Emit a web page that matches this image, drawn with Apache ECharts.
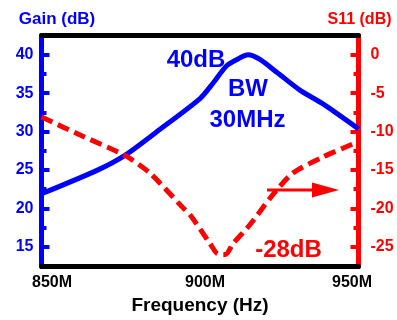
<!DOCTYPE html>
<html><head><meta charset="utf-8">
<script src="https://cdn.jsdelivr.net/npm/echarts@6/dist/echarts.min.js"></script>
<style>html,body{margin:0;padding:0;background:#fff}#c{width:397px;height:320px}</style>
</head><body><div id="c"></div>
<script>
// Gain curve (blue, left axis)
const freqGain = [850, 867.5, 876.3, 887.4, 900, 904.1, 908.5, 912.6, 915.1, 918.9, 924.3, 931.5, 938.8, 950];
const gain     = [21.9, 24.95, 26.9, 30.3, 34.3, 36.3, 38.6, 39.6, 40.0, 39.4, 37.7, 35.4, 33.6, 30.35];
// S11 curve (red dashed, right axis)
const freqS11 = [850, 863, 876.3, 884.2, 894.6, 896.8, 903.2, 905.5, 908, 910.4, 915.8, 923, 929.3, 938.8, 948.3, 950];
const s11     = [-8.1, -10.6, -13.1, -15.4, -19.9, -20.8, -24.6, -25.9, -26.0, -24.6, -22.1, -18.2, -15.4, -13.3, -11.6, -11.3];
// ticks
const xTicks = [850, 900, 950];
const xTickLabels = ['850M', '900M', '950M'];
const gainTickPositions = [12.5, 15, 17.5, 20, 22.5, 25, 27.5, 30, 32.5, 35, 37.5, 40, 42.5];
const gainTicks = [15, 20, 25, 30, 35, 40];
const gainMinor = [17.5, 22.5, 27.5, 32.5, 37.5];
const s11TickPositions = [-27.5, -25, -22.5, -20, -17.5, -15, -12.5, -10, -7.5, -5, -2.5, 0, 2.5];
const s11Ticks = [-25, -20, -15, -10, -5, 0];
const s11Minor = [-22.5, -17.5, -12.5, -7.5, -2.5];

const BLUE = '#0000ff', RED = '#ff0000';
const FONT = 'Arial, "Liberation Sans", Helvetica, sans-serif';

const chart = echarts.init(document.getElementById('c'), null, {renderer: 'canvas'});
const gainData = freqGain.map((f, i) => [f, gain[i]]);
const s11Data = freqS11.map((f, i) => [f, s11[i]]);

function inList(list) { return function (i, v) { return list.indexOf(+v) >= 0; }; }

function catMain(pos, cats, color, ticks, name, namePad, nameSize, labelMargin) {
  return {
    type: 'category', position: pos, boundaryGap: false, data: cats.map(String),
    name: name, nameLocation: 'end', nameGap: 8,
    nameTextStyle: {color: color, fontWeight: 'bold', fontSize: nameSize, fontFamily: FONT, padding: namePad},
    axisLine: {show: true, lineStyle: {color: color, width: 5}},
    axisTick: {show: true, inside: true, length: 8, lineStyle: {color: color, width: 4}, interval: inList(ticks)},
    axisLabel: {show: true, color: color, fontWeight: 'bold', fontSize: 16, fontFamily: FONT, margin: labelMargin, interval: inList(ticks)},
    splitLine: {show: false}
  };
}
function catMinor(pos, cats, color, ticks) {
  return {
    type: 'category', position: pos, boundaryGap: false, data: cats.map(String),
    axisLine: {show: false},
    axisTick: {show: true, inside: true, length: 5, lineStyle: {color: color, width: 4}, interval: inList(ticks)},
    axisLabel: {show: false},
    splitLine: {show: false}
  };
}

const option = {
  animation: false,
  backgroundColor: '#fff',
  grid: {left: 41.5, right: 397 - 358.5, top: 35.6, bottom: 320 - 268.7, containLabel: false},
  xAxis: [
    {
      type: 'value', position: 'bottom', min: 850, max: 950, interval: 50, z: 3,
      name: 'Frequency (Hz)', nameLocation: 'middle', nameGap: 30,
      nameTextStyle: {color: '#000', fontWeight: 'bold', fontSize: 19, fontFamily: FONT},
      axisLine: {show: true, onZero: false, lineStyle: {color: '#000', width: 5}},
      axisTick: {show: true, inside: false, length: 3, lineStyle: {color: '#000', width: 3}},
      axisLabel: {
        show: true, color: '#000', fontWeight: 'bold', fontSize: 16, fontFamily: FONT, margin: 9,
        formatter: function (v) { const i = xTicks.indexOf(v); return i < 0 ? '' : '{p' + i + '|' + xTickLabels[i] + '}'; },
        rich: {
          p0: {padding: [0, 0, 0, 21], fontWeight: 'bold', fontSize: 16, fontFamily: FONT, color: '#000'},
          p1: {padding: [0, 0, 0, 10], fontWeight: 'bold', fontSize: 16, fontFamily: FONT, color: '#000'},
          p2: {padding: [0, 13, 0, 0], fontWeight: 'bold', fontSize: 16, fontFamily: FONT, color: '#000'}
        }
      },
      splitLine: {show: false}
    },
    {
      type: 'value', position: 'top', min: 850, max: 950, interval: 50, z: 3,
      axisLine: {show: true, onZero: false, lineStyle: {color: '#000', width: 5}},
      axisTick: {show: false}, axisLabel: {show: false}, splitLine: {show: false}
    }
  ],
  yAxis: [
    {type: 'value', show: false, min: 12.5, max: 42.5, splitLine: {show: false}},
    {type: 'value', show: false, min: -27.5, max: 2.5, splitLine: {show: false}},
    catMain('left', gainTickPositions, BLUE, gainTicks, 'Gain (dB)', [0, 0, 0, 31], 17, 8),
    catMinor('left', gainTickPositions, BLUE, gainMinor),
    catMain('right', s11TickPositions, RED, s11Ticks, 'S11 (dB)', [0, 0, 0, 2], 16, 12),
    catMinor('right', s11TickPositions, RED, s11Minor)
  ],
  series: [
    {
      type: 'line', name: 'Gain', xAxisIndex: 0, yAxisIndex: 0, data: gainData,
      showSymbol: false, smooth: 0.25, clip: false, z: 2,
      lineStyle: {color: BLUE, width: 5, cap: 'butt', join: 'round'}
    },
    {
      type: 'line', name: 'S11', xAxisIndex: 0, yAxisIndex: 1, data: s11Data,
      showSymbol: false, smooth: 0.25, clip: false, z: 2,
      lineStyle: {color: RED, width: 5, type: [12, 6], cap: 'butt', join: 'round'}
    }
  ],
  graphic: [
    {type: 'text', x: 196, y: 60, z: 10, style: {text: '40dB', fill: BLUE, font: 'bold 24px ' + FONT, textAlign: 'center', textVerticalAlign: 'middle'}},
    {type: 'text', x: 248, y: 89, z: 10, style: {text: 'BW', fill: BLUE, font: 'bold 24px ' + FONT, textAlign: 'center', textVerticalAlign: 'middle'}},
    {type: 'text', x: 247.5, y: 120, z: 10, style: {text: '30MHz', fill: BLUE, font: 'bold 24px ' + FONT, textAlign: 'center', textVerticalAlign: 'middle'}},
    {type: 'text', x: 288.5, y: 250, z: 10, style: {text: '-28dB', fill: RED, font: 'bold 24px ' + FONT, textAlign: 'center', textVerticalAlign: 'middle'}},
    {type: 'line', z: 10, shape: {x1: 267, y1: 190, x2: 318, y2: 190}, style: {stroke: RED, lineWidth: 3}},
    {type: 'polygon', z: 10, shape: {points: [[312, 182.5], [339, 190], [312, 197.5]]}, style: {fill: RED}}
  ]
};
chart.setOption(option);
</script>
</body></html>
